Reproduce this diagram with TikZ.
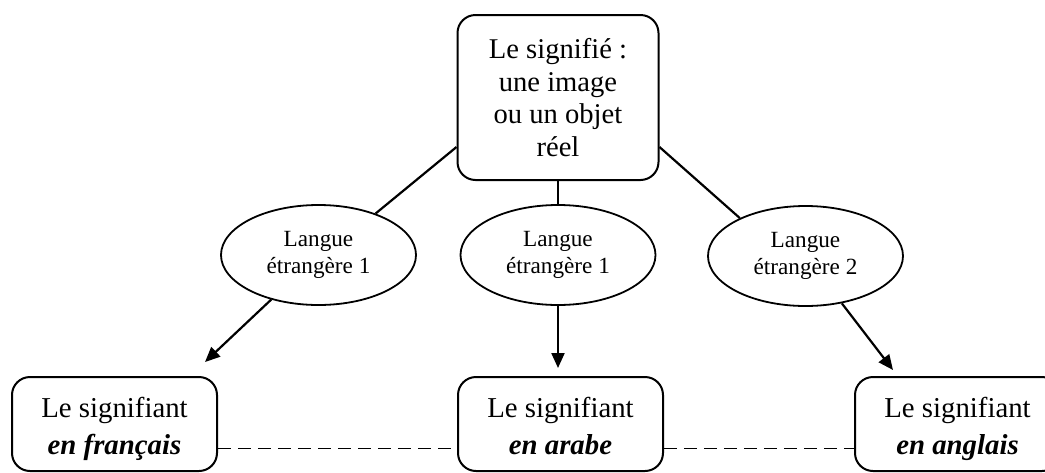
\documentclass[tikz,border=0pt]{standalone}
\usepackage{fontspec}
\setmainfont{Liberation Serif}
\usetikzlibrary{arrows.meta, shapes.geometric}

\begin{document}
\begin{tikzpicture}[x=0.5pt, y=-0.5pt,
    topbox/.style={draw, line width=1pt, rounded corners=9pt, align=center,
        minimum width=100.5pt, minimum height=82.5pt, inner sep=0pt,
        font=\fontsize{14.3}{16.2}\selectfont},
    langue/.style={draw, ellipse, line width=0.9pt, align=center,
        minimum width=97.5pt, minimum height=50pt, inner sep=0pt,
        font=\fontsize{11.6}{13.5}\selectfont},
    signifiant/.style={draw, line width=1pt, rounded corners=9pt, align=center,
        minimum width=102.5pt, minimum height=47pt, inner sep=0pt,
        font=\fontsize{14.4}{18.5}\selectfont,
        text height=30pt, text depth=0pt},
    lien/.style={line width=1.1pt},
    fleche/.style={line width=1.1pt, -{Triangle[length=7.5pt, width=6.5pt]}},
    pointilles/.style={line width=0.5pt, dash pattern=on 6.5pt off 3.5pt}]
    \clip (0,0) rectangle (1045,472);
    \useasboundingbox (0,0) rectangle (1045,472);

    \node [topbox] (S) at (558, 97.5) {Le signifié :\\une image\\ou un objet\\réel};

    \node [langue] (L1) at (318.5, 255) {Langue\\étrangère 1};
    \node [langue] (L2) at (558, 255) {Langue\\étrangère 1};
    \node [langue] (L3) at (805.5, 256) {Langue\\étrangère 2};

    \node [signifiant] (B1) at (114.5, 424) {Le signifiant\\\textbf{\textit{en français}}};
    \node [signifiant] (B2) at (560.5, 424) {Le signifiant\\\textbf{\textit{en arabe}}};
    \node [signifiant] (B3) at (957.5, 424) {Le signifiant\\\textbf{\textit{en anglais}}};

    \coordinate (t1) at (205, 362);
    \coordinate (t2) at (558, 368);
    \coordinate (t3) at (893, 370);

    \draw [lien] (S.206) -- (L1.36);
    \draw [lien] (S.south) -- (L2.north);
    \draw [lien] (S.334) -- (L3.150);

    \draw [fleche] (L1) -- (t1);
    \draw [fleche] (L2) -- (t2);
    \draw [fleche] (L3) -- (t3);

    \draw [pointilles] ([yshift=-12pt]B1.east) -- ([yshift=-12pt]B2.west);
    \draw [pointilles] ([yshift=-12pt]B2.east) -- ([yshift=-12pt]B3.west);
\end{tikzpicture}
\end{document}
